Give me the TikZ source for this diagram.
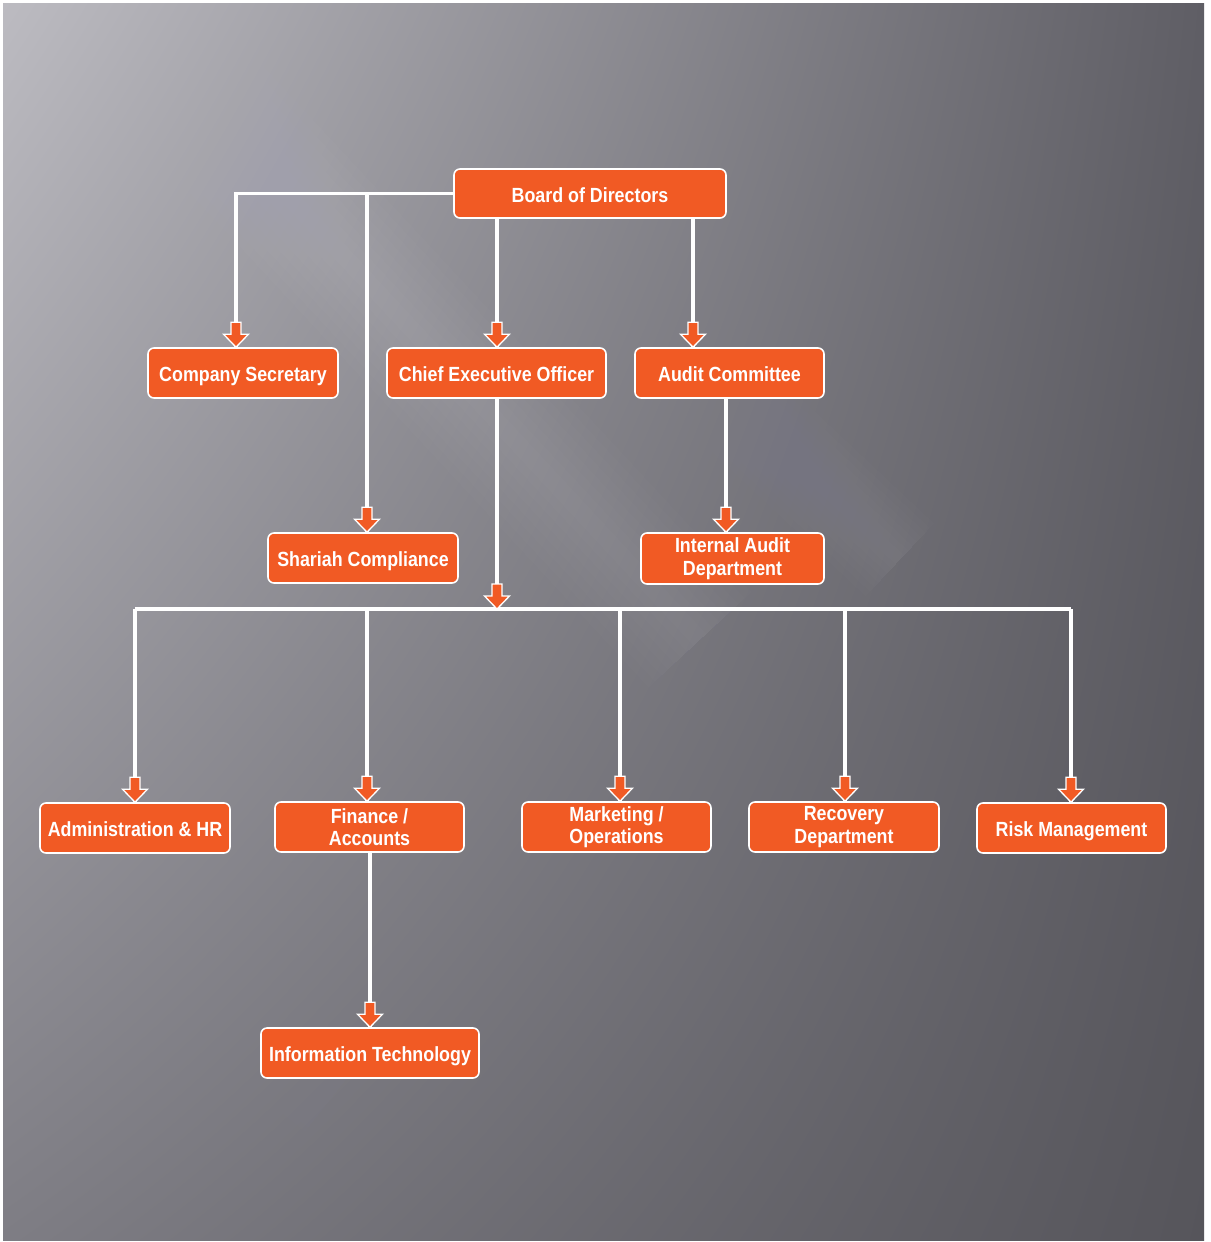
\documentclass[tikz,border=0pt]{standalone}
\usepackage{fontspec}
\setmainfont{Liberation Sans}[FakeStretch=0.87]
\usetikzlibrary{calc,shadings}
\definecolor{boxorange}{HTML}{F15A24}
\definecolor{bgA}{HTML}{BCBBC1}
\definecolor{bgB}{HTML}{5F5E65}
\definecolor{bgC}{HTML}{7E7D84}
\definecolor{bgD}{HTML}{56555B}
\definecolor{streak}{HTML}{F4F3FF}
\tikzset{
  orgbox/.style={draw=white, line width=1.6pt, fill=boxorange, rounded corners=6pt,
    text=white, font=\fontsize{20.5}{22.5}\selectfont\bfseries, align=center,
    inner sep=0pt, minimum height=50pt},
  oneline/.style={text height=17pt, text depth=0pt},
  conn/.style={draw=white, line width=3.5pt},
  barrow/.pic={\path[draw=white, line width=1.3pt, fill=boxorange, line join=miter]
    (-5,-25) -- (-5,-13) -- (-12.5,-13) -- (0,0) -- (12.5,-13) -- (5,-13) -- (5,-25) -- cycle;}
}
% soft diagonal light band: start, end, half width, opacity
\newcommand{\softband}[4]{%
  \foreach \k in {1,...,8}{%
    \pgfmathsetmacro{\bw}{#3*\k/8}%
    \fill[streak, fill opacity=#4/8]
      ($#1!\bw pt!90:#2$) -- ($#2!\bw pt!-90:#1$) --
      ($#2!\bw pt!90:#1$) -- ($#1!\bw pt!-90:#2$) -- cycle;}}
\begin{document}
\begin{tikzpicture}[x=1pt, y=-1pt]
\special{pdf:put @thispage << /Group << /S /Transparency /CS /DeviceRGB /I true >> >>}
% background
\useasboundingbox (0,0) rectangle (1210,1242);
\fill[white] (0,0) rectangle (1210,1242);
\shade[upper left=bgA, upper right=bgB, lower left=bgC, lower right=bgD] (3,3) rectangle (1204,1240);
\begin{scope}
\clip (3,3) rectangle (1204,1240);
\softband{(60,-50)}{(700,640)}{70}{0.09}
\softband{(-50,150)}{(600,660)}{50}{0.06}
\softband{(-50,520)}{(430,900)}{45}{0.07}
\softband{(-50,800)}{(330,1100)}{40}{0.06}
\softband{(250,-50)}{(900,560)}{50}{0.05}
\end{scope}

% nodes
\node[orgbox, oneline, minimum width=272pt, minimum height=49pt] (board) at (590,193.5) {Board of Directors};
\node[orgbox, oneline, minimum width=190pt] (cs) at (243,373) {Company Secretary};
\node[orgbox, oneline, minimum width=219pt] (ceo) at (496.5,373) {Chief Executive Officer};
\node[orgbox, oneline, minimum width=189pt] (ac) at (729.5,373) {Audit Committee};
\node[orgbox, oneline, minimum width=190pt] (sc) at (363,558) {Shariah Compliance};
\node[orgbox, minimum width=183pt, minimum height=51pt] (iad) at (732.5,558.5) {Internal Audit\\Department};
\node[orgbox, oneline, minimum width=190pt] (adm) at (135,828) {Administration \& HR};
\node[orgbox, minimum width=189pt] (fin) at (369.5,827) {Finance /\\Accounts};
\node[orgbox, minimum width=189pt] (mkt) at (616.5,827) {Marketing /\\Operations};
\node[orgbox, minimum width=190pt] (rec) at (844,827) {Recovery\\Department};
\node[orgbox, oneline, minimum width=189pt] (risk) at (1071.5,828) {Risk Management};
\node[orgbox, oneline, minimum width=218pt] (it) at (370,1053) {Information Technology};

\coordinate (bus) at (497,609);
\coordinate (busL) at (135,609);
\coordinate (busR) at (1071,609);
\coordinate (secJ) at (367,193);

% connectors
\draw[conn] (board.west) -| ([xshift=-7pt]cs.north) pic{barrow};
\draw[conn] (secJ) -- ([xshift=4pt]sc.north) pic{barrow};
\draw[conn] ([xshift=0.5pt]ceo.north |- board.south) -- ([xshift=0.5pt]ceo.north) pic{barrow};
\draw[conn] ([xshift=-36.5pt]ac.north |- board.south) -- ([xshift=-36.5pt]ac.north) pic{barrow};
\draw[conn] ([xshift=-3.5pt]ac.south) -- ([xshift=-6.5pt]iad.north) pic{barrow};
\draw[conn] (busL) -- (busR);
\draw[conn] ([xshift=0.5pt]ceo.south) -- (bus) pic{barrow};
\draw[conn] (busL) -- (adm.north) pic{barrow};
\draw[conn] (fin.north |- bus) ++(-2.5,0) -- ([xshift=-2.5pt]fin.north) pic{barrow};
\draw[conn] (mkt.north |- bus) ++(3.5,0) -- ([xshift=3.5pt]mkt.north) pic{barrow};
\draw[conn] (rec.north |- bus) ++(1,0) -- ([xshift=1pt]rec.north) pic{barrow};
\draw[conn] (busR) -- ([xshift=-0.5pt]risk.north) pic{barrow};
\draw[conn] ([xshift=0.5pt]fin.south) -- (it.north) pic{barrow};
\end{tikzpicture}
\end{document}
